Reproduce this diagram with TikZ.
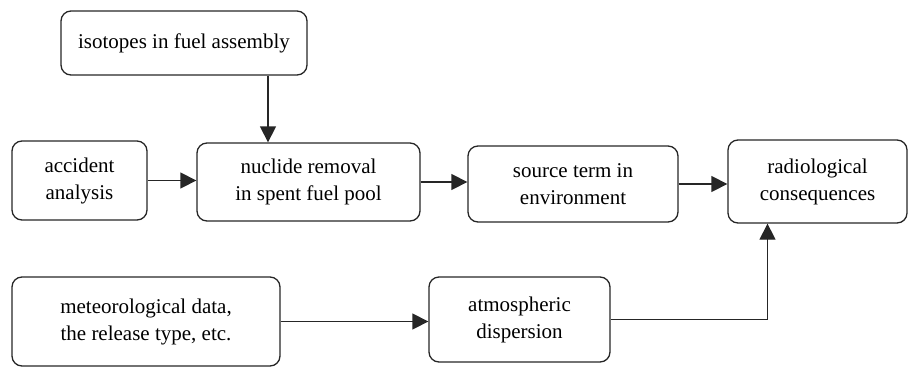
\documentclass[tikz,border=0pt]{standalone}
\usepackage{fontspec}
\setmainfont{Liberation Serif}
\usetikzlibrary{arrows.meta}
\begin{document}
\begin{tikzpicture}[x=1pt,y=-1pt,
  box/.style={draw=black!85, line width=1.3pt, rounded corners=10pt, align=center,
    font=\fontsize{21}{27}\selectfont, inner sep=0pt},
  arr/.style={draw=black!85, line width=1.3pt, -{Triangle[length=16pt,width=16pt]}}]
\useasboundingbox (0,0) rectangle (909,367);
\node[box, minimum width=246pt, minimum height=64pt] (iso) at (184,43) {isotopes in fuel assembly};
\node[box, minimum width=135pt, minimum height=79pt] (acc) at (79.5,180.5) {accident\\analysis};
\node[box, minimum width=223pt, minimum height=78pt] (nuc) at (308.5,182) {nuclide removal\\in spent fuel pool};
\node[box, minimum width=210pt, minimum height=76pt] (src) at (573,184) {source term in\\environment};
\node[box, minimum width=179pt, minimum height=83pt] (rad) at (817.5,181.5) {radiological\\consequences};
\node[box, minimum width=268pt, minimum height=89pt] (met) at (146,321.5) {meteorological data,\\the release type, etc.};
\node[box, minimum width=181pt, minimum height=85pt] (atm) at (519.5,319.5) {atmospheric\\dispersion};
\draw[arr] ([xshift=84pt]iso.south) -- ([xshift=84pt]iso.south |- nuc.north);
\draw[arr] (acc.east) -- (acc.east -| nuc.west);
\draw[arr] (nuc.east) -- (nuc.east -| src.west);
\draw[arr] (src.east) -- (src.east -| rad.west);
\draw[arr] (met.east) -- (met.east -| atm.west);
\draw[arr] (atm.east) -| ([xshift=-50pt]rad.south);
\end{tikzpicture}
\end{document}
